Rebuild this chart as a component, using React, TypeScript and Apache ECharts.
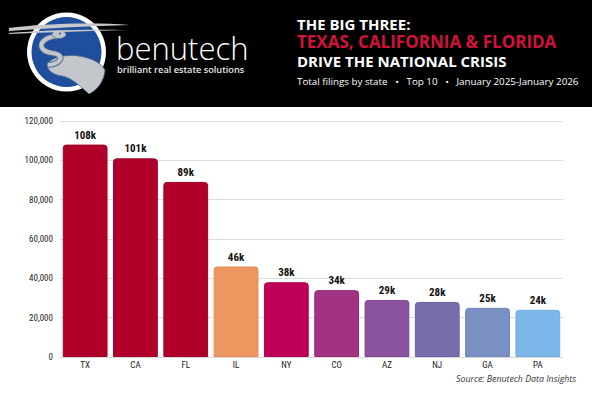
import React, { useEffect, useRef } from "react";
import * as echarts from "echarts";

const states = ["TX", "CA", "FL", "IL", "NY", "CO", "AZ", "NJ", "GA", "PA"];
const filings = [108000, 101000, 89000, 46000, 38000, 34000, 29000, 28000, 25000, 24000];
const barColors = ["#B0002A", "#B0002A", "#B0002A", "#EC9660", "#BE0058", "#A23282", "#8B529E", "#786CAA", "#7A90C3", "#7BB7E8"];
const borderColors = ["#A00026", "#A00026", "#A00026", "#E6874C", "#B0004F", "#962877", "#7E4692", "#6C60A0", "#6E84BA", "#6FACE2"];
const yTicks = { min: 0, max: 120000, interval: 20000 };

const titleLine1 = "THE BIG THREE:";
const titleLine2 = "TEXAS, CALIFORNIA & FLORIDA";
const titleLine3 = "DRIVE THE NATIONAL CRISIS";
const subtitle = "Total filings by state   \u2022   Top 10   \u2022   January 2025-January 2026";
const sourceText = "Source: Benutech Data Insights";

const narrow = "'Liberation Sans Narrow', 'Roboto Condensed', Roboto, sans-serif";
const headFont = "'Open Sans', 'Noto Sans', sans-serif";

echarts.graphic.registerShape(
  "heronBody",
  echarts.graphic.extendPath("M 47 64 C 58 50, 96 54, 105 70 C 104 82, 97 90, 89 94 C 80 86, 72 78, 62 76 C 54 75, 47 71, 47 64 Z", {})
);
echarts.graphic.registerShape(
  "swoosh",
  echarts.graphic.extendPath("M 9 28 C 40 24, 90 22, 130 25 C 90 26, 50 28, 9 31 Z M 9 33 C 40 30, 90 29, 128 30 C 90 31, 50 32, 9 34 Z", {})
);

const textEl = (x: number, y: number, text: string, fill: string, font: string, lh: number) => ({
  type: "text",
  x,
  y,
  style: { text, fill, font, verticalAlign: "middle", align: "left", lineHeight: lh },
  z: 6,
});

export default function App() {
  const ref = useRef<HTMLDivElement>(null);
  useEffect(() => {
    if (!ref.current) return;
    const chart = echarts.init(ref.current, undefined, { renderer: "svg" });
    const neckOutline = { stroke: "#4F6A94", lineWidth: 6, fill: "none" };
    const neckFill = { stroke: "#C3C6CA", lineWidth: 4.2, fill: "none" };
    chart.setOption({
      animation: false,
      backgroundColor: "#ffffff",
      grid: { left: 60, right: 29, top: 121, bottom: 38 },
      xAxis: {
        type: "category",
        data: states,
        axisLine: { lineStyle: { color: "#d9d9d9" } },
        axisTick: { show: false },
        axisLabel: { color: "#222", fontFamily: narrow, fontSize: 9, margin: 3 },
      },
      yAxis: {
        type: "value",
        min: yTicks.min,
        max: yTicks.max,
        interval: yTicks.interval,
        axisLine: { show: false },
        axisTick: { show: false },
        splitLine: { lineStyle: { color: "#dddddd", width: 1 } },
        axisLabel: {
          color: "#222",
          fontFamily: narrow,
          fontSize: 9,
          margin: 7,
          formatter: (v: number) => v.toLocaleString("en-US"),
        },
      },
      series: [
        {
          type: "bar",
          barCategoryGap: "11%",
          data: filings.map((v, i) => ({
            value: v,
            itemStyle: {
              color: barColors[i],
              borderColor: borderColors[i],
              borderWidth: 1,
              borderRadius: [3, 3, 0, 0],
            },
          })),
          label: {
            show: true,
            position: "top",
            distance: 4,
            color: "#111",
            fontFamily: narrow,
            fontWeight: "bold",
            fontSize: 11,
            formatter: (p: any) => Math.round(p.value / 1000) + "k",
          },
        },
      ],
      graphic: [
        { type: "rect", shape: { x: 0, y: 0, width: 592, height: 107 }, style: { fill: "#000" }, z: 0 },
        { type: "circle", shape: { cx: 66.5, cy: 52, r: 39.5 }, style: { fill: "#ffffff" }, z: 1 },
        { type: "circle", shape: { cx: 66.5, cy: 52, r: 35 }, style: { fill: "#1E4E9C" }, z: 2 },
        { type: "heronBody", style: { fill: "#C3C6CA", stroke: "#4F6A94", lineWidth: 0.8 }, z: 3 },
        { type: "bezierCurve", shape: { x1: 58, y1: 36, cpx1: 38, cpy1: 37, cpx2: 36, cpy2: 51, x2: 52, y2: 53 }, style: neckOutline, z: 3 },
        { type: "bezierCurve", shape: { x1: 52, y1: 53, cpx1: 67, cpy1: 55, cpx2: 60, cpy2: 64, x2: 48, y2: 65 }, style: neckOutline, z: 3 },
        { type: "bezierCurve", shape: { x1: 58, y1: 36, cpx1: 38, cpy1: 37, cpx2: 36, cpy2: 51, x2: 52, y2: 53 }, style: neckFill, z: 4 },
        { type: "bezierCurve", shape: { x1: 52, y1: 53, cpx1: 67, cpy1: 55, cpx2: 60, cpy2: 64, x2: 48, y2: 65 }, style: neckFill, z: 4 },
        { type: "ellipse", shape: { cx: 59, cy: 34.5, rx: 7, ry: 4 }, style: { fill: "#C3C6CA", stroke: "#4F6A94", lineWidth: 0.8 }, z: 4 },
        { type: "circle", shape: { cx: 60, cy: 33.5, r: 0.9 }, style: { fill: "#1E4E9C" }, z: 5 },
        { type: "swoosh", style: { fill: "#C8CACD" }, z: 5 },
        textEl(116, 48, "benutech", "#ffffff", "300 31px 'Open Sans', Lato, sans-serif", 30),
        textEl(117, 69.5, "brilliant real estate solutions", "#e6e6e6", "600 9.2px 'Open Sans', sans-serif", 9),
        textEl(297, 23.5, titleLine1, "#ffffff", `bold 15px ${headFont}`, 15),
        textEl(297, 41.5, titleLine2, "#D4103C", `bold 17px ${headFont}`, 16),
        textEl(297, 60.5, titleLine3, "#ffffff", `bold 15px ${headFont}`, 15),
        textEl(297, 81, subtitle, "#ffffff", `9.8px ${headFont}`, 11),
        {
          type: "text",
          right: 16,
          top: 374,
          style: { text: sourceText, fill: "#333", font: `italic 8.8px ${headFont}` },
          z: 5,
        },
      ],
    });
    return () => chart.dispose();
  }, []);
  return <div ref={ref} style={{ width: 592, height: 395, position: "fixed", left: 0, top: 0 }} />;
}
